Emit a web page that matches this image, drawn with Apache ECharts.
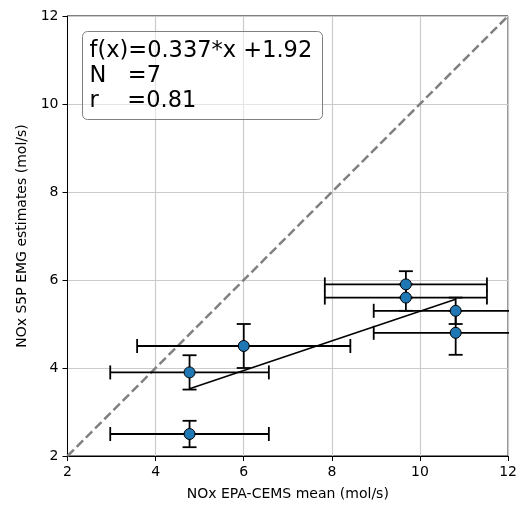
<!DOCTYPE html>
<html><head><meta charset="utf-8">
<script src="https://cdn.jsdelivr.net/npm/echarts@6/dist/echarts.min.js"></script>
<style>html,body{margin:0;padding:0;background:#fff}#c{width:520px;height:506px}</style>
</head><body><div id="c"></div>
<script>
// Data
const xMean = [4.77, 4.77, 6.0, 9.68, 9.68, 10.81, 10.81];
const yEst  = [2.5, 3.9, 4.5, 5.9, 5.6, 5.3, 4.8];
const xErr  = [1.8, 1.8, 2.42, 1.84, 1.84, 1.86, 1.86];
const yErr  = [0.3, 0.39, 0.5, 0.3, 0.3, 0.3, 0.5];
const fitSlope = 0.337;
const fitIntercept = 1.92;
const statLines = ['f(x)=0.337*x +1.92', 'N   =7', 'r    =0.81'];
const axisMin = 2, axisMax = 12, axisStep = 2;
const xTitle = 'NOx EPA-CEMS mean (mol/s)';
const yTitle = 'NOx S5P EMG estimates (mol/s)';

const FONT = 'DejaVu Sans';
const chart = echarts.init(document.getElementById('c'), null, {renderer: 'canvas'});

const pts = xMean.map((x, i) => [x, yEst[i]]);
const errData = xMean.map((x, i) => [x, yEst[i], xErr[i], yErr[i]]);
const xLo = Math.min(...xMean), xHi = Math.max(...xMean);
const fitData = [[xLo, fitSlope * xLo + fitIntercept], [xHi, fitSlope * xHi + fitIntercept]];

function axis(name, isX) {
  return {
    type: 'value', min: axisMin, max: axisMax, interval: axisStep,
    name: name, nameLocation: 'middle', nameGap: isX ? 31 : 37,
    nameTextStyle: {fontFamily: FONT, fontSize: 14, color: '#000'},
    axisLine: {show: true, onZero: false, lineStyle: {color: '#000', width: 1}},
    axisTick: {show: true, inside: false, length: 5, lineStyle: {color: '#000', width: 1}},
    axisLabel: {fontFamily: FONT, fontSize: 14, color: '#000', margin: 9},
    splitLine: {show: true, lineStyle: {color: '#cbcbcb', width: 1.2}}
  };
}

const CAP = 7;
function renderErr(params, api) {
  const x = api.value(0), y = api.value(1), xe = api.value(2), ye = api.value(3);
  const l = api.coord([x - xe, y]), r = api.coord([x + xe, y]);
  const t = api.coord([x, y + ye]), b = api.coord([x, y - ye]);
  const st = {stroke: '#000', lineWidth: 1.8};
  const line = (x1, y1, x2, y2) => ({type: 'line', shape: {x1, y1, x2, y2}, style: st});
  return {type: 'group', children: [
    line(l[0], l[1], r[0], r[1]),
    line(l[0], l[1] - CAP, l[0], l[1] + CAP),
    line(r[0], r[1] - CAP, r[0], r[1] + CAP),
    line(t[0], t[1], b[0], b[1]),
    line(t[0] - CAP, t[1], t[0] + CAP, t[1]),
    line(b[0] - CAP, b[1], b[0] + CAP, b[1])
  ]};
}

const textEls = statLines.map((s, i) => ({
  type: 'text', z: 101,
  style: {text: s, x: 89.5, y: 51 + 25 * i, fontFamily: FONT, fontSize: 22.5, fill: '#000', verticalAlign: 'middle', align: 'left'}
}));

chart.setOption({
  animation: false,
  backgroundColor: '#fff',
  grid: {left: 67.5, right: 8.3, top: 16, bottom: 49, show: true, borderColor: '#000', borderWidth: 1, backgroundColor: 'transparent'},
  xAxis: axis(xTitle, true),
  yAxis: axis(yTitle, false),
  series: [
    {type: 'line', data: [[axisMin, axisMin], [axisMax, axisMax]], symbol: 'none', z: 2,
     lineStyle: {color: '#808080', width: 2.5, type: [9, 4]}, silent: true},
    {type: 'custom', data: errData, renderItem: renderErr, clip: true, z: 3, silent: true},
    {type: 'line', data: fitData, symbol: 'none', z: 4, lineStyle: {color: '#000', width: 1.5}, silent: true},
    {type: 'scatter', data: pts, symbol: 'circle', symbolSize: 11, z: 5,
     itemStyle: {color: '#1f77b4', borderColor: '#000', borderWidth: 1, opacity: 1}}
  ],
  graphic: [
    {type: 'rect', z: 100, shape: {x: 82.5, y: 31.5, width: 240, height: 88, r: 5},
     style: {fill: 'rgba(255,255,255,0.5)', stroke: '#808080', lineWidth: 1}},
    ...textEls
  ]
});
</script></body></html>
